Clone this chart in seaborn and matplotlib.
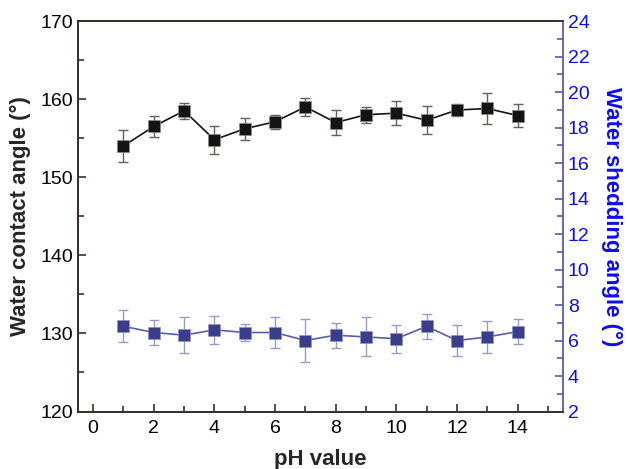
import numpy as np
import pandas as pd
import matplotlib
matplotlib.use("Agg")
import matplotlib.pyplot as plt
import seaborn as sns
from matplotlib.ticker import MultipleLocator

sns.set_style("ticks")
plt.rcParams['font.family'] = ['Liberation Sans', 'DejaVu Sans']

# data
ph = [1, 2, 3, 4, 5, 6, 7, 8, 9, 10, 11, 12, 13, 14]
contact = [154.0, 156.5, 158.5, 154.8, 156.2, 157.1, 159.0, 157.0, 158.0, 158.2, 157.3, 158.6, 158.8, 157.9]
contact_err = [2.0, 1.3, 1.0, 1.8, 1.4, 0.9, 1.2, 1.6, 1.0, 1.5, 1.8, 0.8, 2.0, 1.5]
shedding = [6.8, 6.45, 6.3, 6.6, 6.45, 6.45, 6.0, 6.3, 6.2, 6.1, 6.8, 6.0, 6.2, 6.5]
shedding_err = [0.9, 0.7, 1.0, 0.8, 0.5, 0.9, 1.2, 0.7, 1.1, 0.8, 0.7, 0.9, 0.9, 0.7]

df = pd.DataFrame({"pH": ph, "contact": contact, "c_err": contact_err,
                   "shedding": shedding, "s_err": shedding_err})

fig = plt.figure(figsize=(6.27, 4.69), dpi=100)
ax = fig.add_axes([0.1244, 0.1226, 0.7736, 0.8326])
ax2 = ax.twinx()

black = "#141414"
blue_m = "#3a3d8c"
blue_l = "#5a5da8"

# contact angle (left axis)
ax.errorbar(df["pH"], df["contact"], yerr=df["c_err"], fmt="none",
            ecolor="#6a5e58", elinewidth=1.0, capsize=3.5, capthick=1.0, zorder=2)
sns.lineplot(data=df, x="pH", y="contact", ax=ax, color=black, marker="s",
             markersize=8, markeredgecolor="#8a8a8a", markeredgewidth=0.5,
             linewidth=1.2, zorder=3)

# shedding angle (right axis)
ax2.errorbar(df["pH"], df["shedding"], yerr=df["s_err"], fmt="none",
             ecolor="#9a9ac8", elinewidth=1.0, capsize=3.5, capthick=1.0, zorder=2)
sns.lineplot(data=df, x="pH", y="shedding", ax=ax2, color=blue_l, marker="s",
             markersize=8, markerfacecolor=blue_m, markeredgecolor="#9090c0",
             markeredgewidth=0.5, linewidth=1.2, zorder=3)

ax.set_xlim(-0.5, 15.5)
ax.set_ylim(120, 170)
ax2.set_ylim(2, 24)

ax.xaxis.set_major_locator(MultipleLocator(2))
ax.xaxis.set_minor_locator(MultipleLocator(1))
ax.yaxis.set_major_locator(MultipleLocator(10))
ax.yaxis.set_minor_locator(MultipleLocator(5))
ax2.yaxis.set_major_locator(MultipleLocator(2))
ax2.yaxis.set_minor_locator(MultipleLocator(1))

spine_c = "#3a302a"
for s in ["left", "bottom", "top"]:
    ax.spines[s].set_color(spine_c)
    ax.spines[s].set_linewidth(1.3)
    ax2.spines[s].set_color(spine_c)
    ax2.spines[s].set_linewidth(1.3)
ax2.spines["right"].set_color("#5a5aa8")
ax2.spines["right"].set_linewidth(1.3)
ax.spines["right"].set_visible(False)

ax.tick_params(axis="both", which="both", direction="in", colors=spine_c,
               labelcolor="black", labelsize=14, width=1.2)
ax.tick_params(which="major", length=6)
ax.tick_params(which="minor", length=4)
ax.tick_params(axis="x", pad=6)
ax2.tick_params(axis="y", which="both", direction="in", colors="#5a5aa8",
                labelcolor="#0c0cf0", labelsize=14, width=1.2)
ax2.tick_params(axis="y", which="major", length=6)
ax2.tick_params(axis="y", which="minor", length=4)

ax.set_xlabel("pH value", fontsize=16, fontweight="bold", labelpad=9)
ax.set_ylabel("Water contact angle (°)", fontsize=16, fontweight="bold", labelpad=7)
ax2.set_ylabel("Water shedding angle (°)", fontsize=16, fontweight="bold",
               color="#0c0cf0", rotation=270, labelpad=23)

fig.savefig("out.png", dpi=100)
